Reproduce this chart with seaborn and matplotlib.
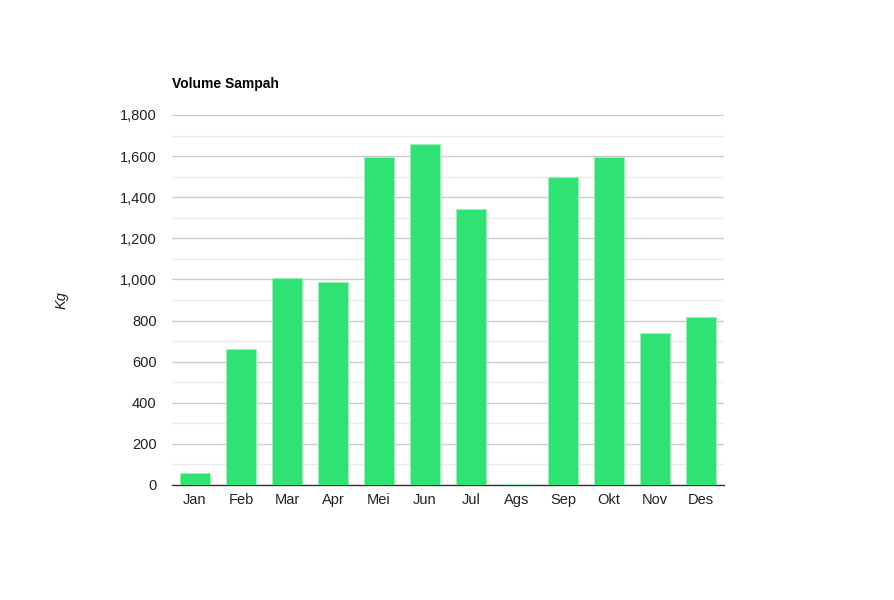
import matplotlib
matplotlib.use("Agg")
import matplotlib.pyplot as plt
import seaborn as sns
import pandas as pd
from matplotlib.ticker import FuncFormatter, MultipleLocator

months = ["Jan", "Feb", "Mar", "Apr", "Mei", "Jun", "Jul", "Ags", "Sep", "Okt", "Nov", "Des"]
volume = [58, 661, 1007, 987, 1594, 1657, 1341, 5, 1497, 1594, 739, 817]

df = pd.DataFrame({"Bulan": months, "Kg": volume})

sns.set_theme(style="white")
plt.rcParams['font.family'] = ['Liberation Sans', 'DejaVu Sans']

fig = plt.figure(figsize=(8.95, 6.0), dpi=100)
ax = fig.add_axes([172/895, 115/600, (724-172)/895, (485-115)/600])

sns.barplot(data=df, x="Bulan", y="Kg", color="#2ee273", saturation=1, width=0.65,
            edgecolor="#9af0b8", linewidth=0.8, ax=ax, zorder=3)

ax.set_ylim(0, 1800)
ax.set_xlim(-0.5, 11.5)
ax.yaxis.set_major_locator(MultipleLocator(200))
ax.yaxis.set_minor_locator(MultipleLocator(100))
ax.yaxis.set_major_formatter(FuncFormatter(lambda v, p: f"{int(v):,}"))
ax.grid(axis="y", which="major", color="#cccccc", linewidth=1, zorder=0)
ax.grid(axis="y", which="minor", color="#ebebeb", linewidth=1, zorder=0)
ax.set_axisbelow(True)
for s in ["top", "right", "left"]:
    ax.spines[s].set_visible(False)
ax.spines["bottom"].set_color("#333333")
ax.spines["bottom"].set_linewidth(1)
ax.tick_params(axis="both", which="both", length=0, labelsize=10.5, colors="#222222")
ax.tick_params(axis="y", pad=11)
ax.tick_params(axis="x", pad=6)
ax.set_xlabel("")
ax.set_ylabel("")
fig.text(62/895, 1 - 300/600, "Kg", rotation=90, style="italic", fontsize=10.5,
         ha="center", va="center", color="#222222")
fig.text(172/895, 1 - 84/600, "Volume Sampah", fontweight="bold", fontsize=10,
         ha="left", va="center", color="#000000")

fig.savefig("out.png", dpi=100)
